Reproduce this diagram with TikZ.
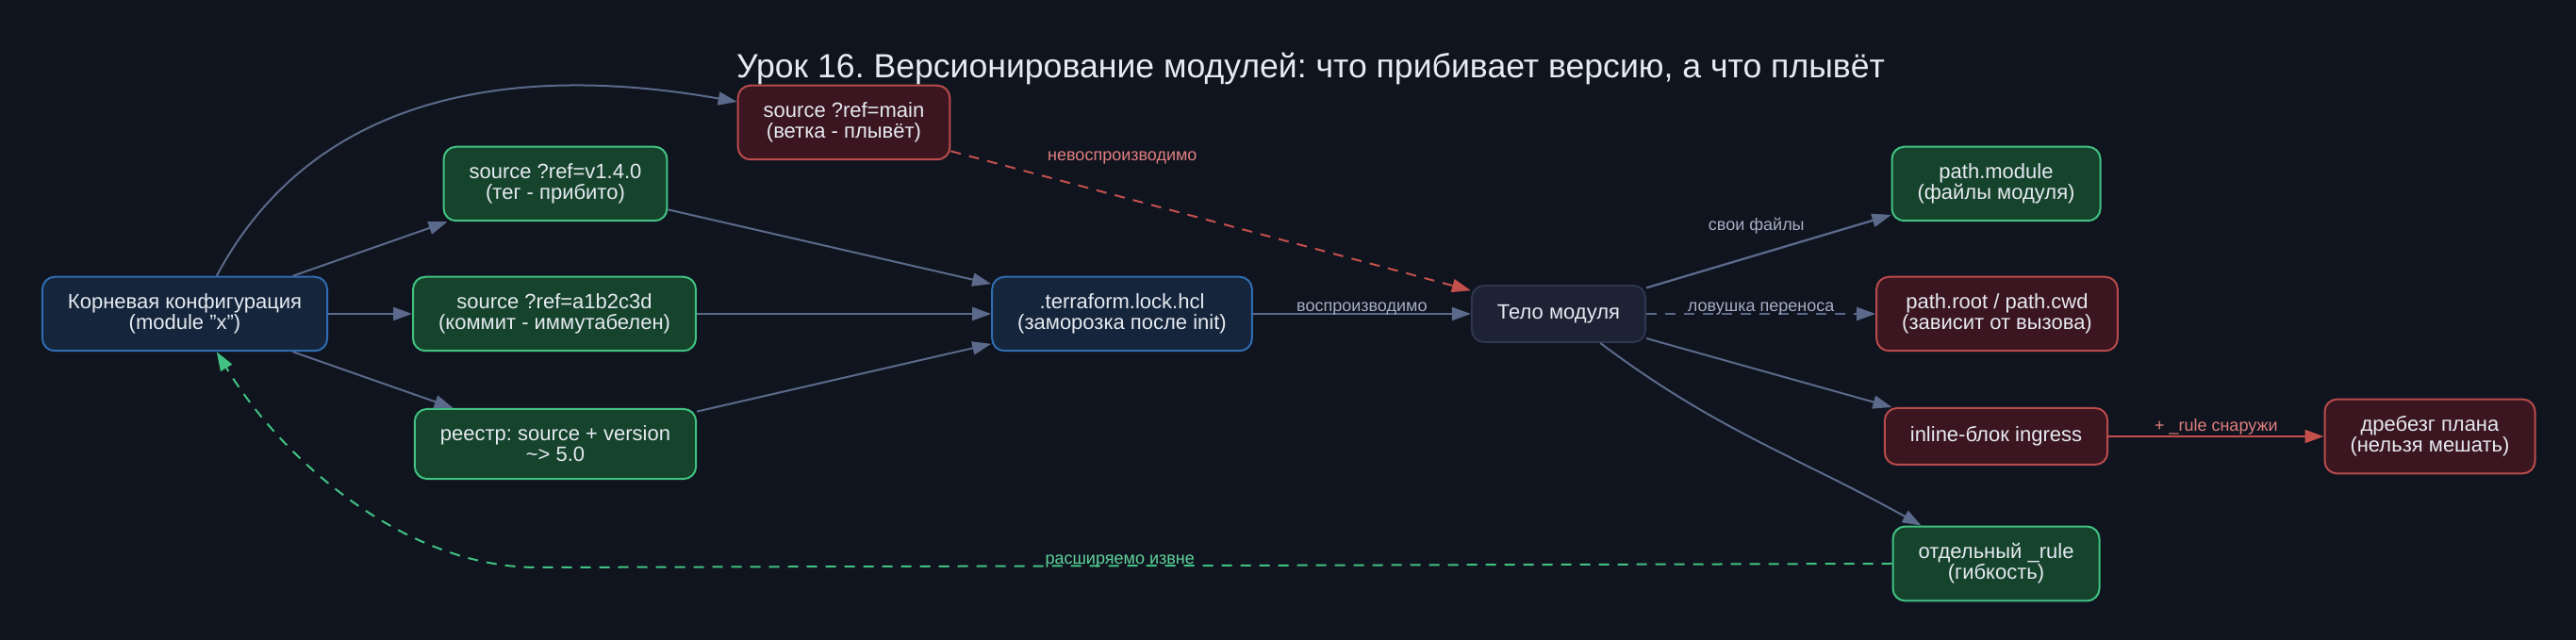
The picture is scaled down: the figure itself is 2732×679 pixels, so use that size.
\documentclass[tikz,border=0pt]{standalone}
\usepackage{fontspec}
\setmainfont{Liberation Sans}
\usetikzlibrary{arrows.meta}
\frenchspacing
\definecolor{bgc}{HTML}{10141F}
\definecolor{bluefill}{HTML}{15253B}
\definecolor{blueline}{HTML}{2F6DB2}
\definecolor{greenfill}{HTML}{15432C}
\definecolor{greenline}{HTML}{41C282}
\definecolor{redfill}{HTML}{3B1520}
\definecolor{redline}{HTML}{B84B4B}
\definecolor{grayfill}{HTML}{1D2234}
\definecolor{grayline}{HTML}{2E3750}
\definecolor{wire}{HTML}{5B6A8A}
\definecolor{wirered}{HTML}{C4504C}
\definecolor{txt}{HTML}{E6EAF1}
\definecolor{lblgray}{HTML}{A4AEC4}
\definecolor{lblred}{HTML}{E07F7F}
\definecolor{lblgreen}{HTML}{5FD39A}
\tikzset{
  box/.style={draw=#1line,fill=#1fill,line width=1pt,rounded corners=6.5pt,text=txt,align=center,
    font=\fontsize{11}{11}\selectfont,inner xsep=13.5pt,inner ysep=9pt,minimum height=30pt},
  link/.style={draw=wire,line width=1pt,-{Triangle[length=10pt,width=7pt]}},
  dsh/.style={dash pattern=on 5.5pt off 4.5pt},
  lbl/.style={font=\fontsize{9}{9}\selectfont,inner sep=0pt,anchor=base,yshift=1pt}
}
\begin{document}
\begin{tikzpicture}[x=.5pt,y=.5pt]
   \useasboundingbox[fill=bgc] (0,0) rectangle (2732,679);
   \node[text=txt,font=\fontsize{17.8}{17.8}\selectfont] (title) at (1390,606)
     {Урок 16. Версионирование модулей: что прибивает версию, а что плывёт};
   \node[box=blue] (root) at (196,346) {Корневая конфигурация\\(module "x")};
   \node[box=green] (tag) at (589,484) {source ?ref=v1.4.0\\(тег - прибито)};
   \node[box=green] (commit) at (588,346) {source ?ref=a1b2c3d\\(коммит - иммутабелен)};
   \node[box=green] (reg) at (589,208) {реестр: source + version\\\textasciitilde> 5.0};
   \node[box=red] (main) at (895,549) {source ?ref=main\\(ветка - плывёт)};
   \node[box=blue] (lock) at (1190,346) {.terraform.lock.hcl\\(заморозка после init)};
   \node[box=gray] (body) at (1653,346) {Тело модуля};
   \node[box=green] (pmod) at (2117,484) {path.module\\(файлы модуля)};
   \node[box=red] (proot) at (2118,346) {path.root / path.cwd\\(зависит от вызова)};
   \node[box=red] (inline) at (2117,216) {inline-блок ingress};
   \node[box=red] (jitter) at (2577,216) {дребезг плана\\(нельзя мешать)};
   \node[box=green] (sep) at (2117,81) {отдельный \_rule\\(гибкость)};
   \draw[link] (root.50) to[out=62,in=170] (main.169);
   \foreach \a/\b in {root/tag,root/commit,root/reg,tag/lock,commit/lock,reg/lock,body/pmod,body/inline}
     \draw[link] (\a) -- (\b);
   \draw[link] (lock) -- node[lbl,text=lblgray]{воспроизводимо} (body);
   \draw[link,draw=wirered,dsh] (main) -- node[lbl,text=lblred,pos=.33,yshift=18.5pt]{невоспроизводимо} (body);
   \draw[link] (body) -- node[lbl,text=lblgray,pos=.45,yshift=12pt]{свои файлы} (pmod);
   \draw[link,dsh] (body) -- node[lbl,text=lblgray]{ловушка переноса} (proot);
   \draw[link] (body.-35) to[out=-37,in=151] (sep.153);
   \draw[link,draw=wirered] (inline) -- node[lbl,text=lblred,yshift=1.8pt]{+ \_rule снаружи} (jitter);
   \coordinate (bend) at (570,77);
   \draw[link,draw=greenline,dsh] (sep.west) -- node[lbl,text=lblgreen,pos=.57]{расширяемо извне} (bend)
     .. controls (430,77) and (300,190) .. (root.-50);
\end{tikzpicture}
\end{document}
